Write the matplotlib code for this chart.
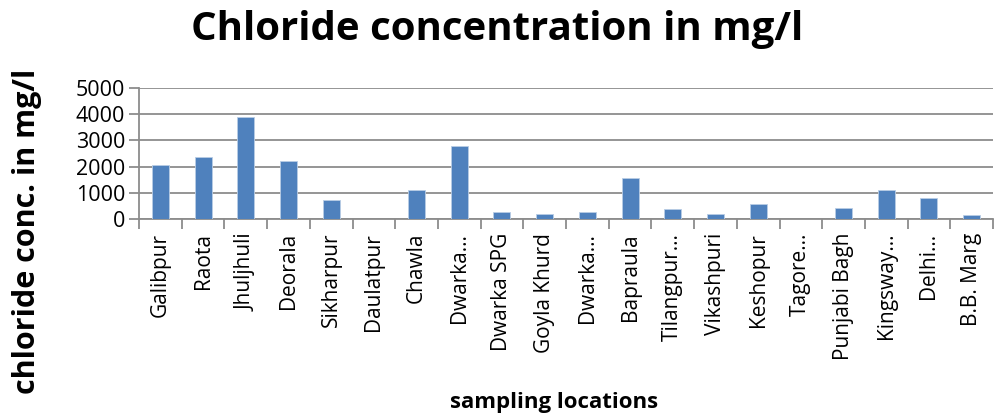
import numpy as np
import matplotlib.pyplot as plt

plt.rcParams['font.family'] = ['Open Sans', 'DejaVu Sans']

locations = ['Galibpur', 'Raota', 'Jhuljhuli', 'Deorala', 'Sikharpur', 'Daulatpur',
             'Chawla', 'Dwarka…', 'Dwarka SPG', 'Goyla Khurd', 'Dwarka…', 'Bapraula',
             'Tilangpur…', 'Vikashpuri', 'Keshopur', 'Tagore…', 'Punjabi Bagh',
             'Kingsway…', 'Delhi…', 'B.B. Marg']
chloride = [2070, 2380, 3900, 2200, 730, 10, 1095, 2800, 270, 200,
            280, 1580, 370, 200, 560, 0, 410, 1095, 790, 150]
yticks = [0, 1000, 2000, 3000, 4000, 5000]

fig = plt.figure(figsize=(9.95, 4.17), dpi=100)
ax = fig.add_axes([139/995, 1 - 219/417, (993-139)/995, (219-88)/417])

x = np.arange(len(locations))
ax.bar(x, chloride, width=0.4, color='#4F81BD', edgecolor='#B9CDE5', linewidth=0.6, zorder=3)

ax.set_xlim(-0.5, len(locations) - 0.5)
ax.set_ylim(0, 5000)
ax.set_yticks(yticks)
ax.set_yticklabels([str(v) for v in yticks], fontsize=15.5)
ax.grid(axis='y', color='#8C8C8C', linewidth=1.3, zorder=0)

ax.set_xticks(np.arange(-0.5, len(locations), 1))
ax.set_xticklabels([])
ax.set_xticks(x, minor=True)
ax.set_xticklabels(locations, minor=True, rotation=90, fontsize=15, va='top')
ax.tick_params(axis='x', which='major', length=7, color='#8C8C8C', width=1.3)
ax.tick_params(axis='x', which='minor', length=0, pad=10)
ax.tick_params(axis='y', length=7, color='#8C8C8C', width=1.3, pad=3)

for s in ['top', 'right']:
    ax.spines[s].set_visible(False)
for s in ['left', 'bottom']:
    ax.spines[s].set_color('#8C8C8C')
    ax.spines[s].set_linewidth(1.3)

fig.text(0.5, 0.93, 'Chloride concentration in mg/l', ha='center', va='center',
         fontsize=29, fontweight='bold')
fig.text(0.027, 0.444, 'chloride conc. in mg/l', ha='center', va='center',
         rotation=90, fontsize=22, fontweight='bold')
fig.text(0.557, 0.035, 'sampling locations', ha='center', va='center',
         fontsize=16, fontweight='bold')

fig.savefig('out.png', dpi=100)
